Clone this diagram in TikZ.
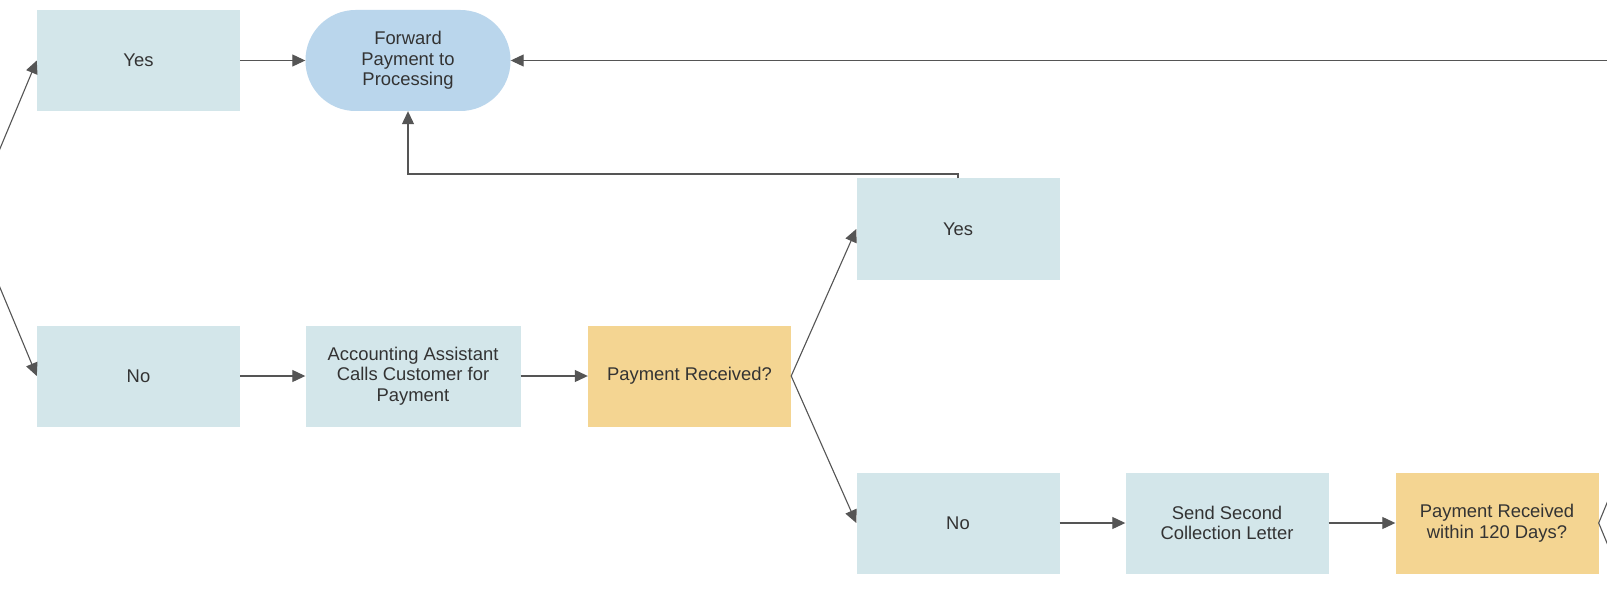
\documentclass[tikz,border=0pt]{standalone}
\usepackage{fontspec}
\setmainfont{Liberation Sans}
\usetikzlibrary{arrows.meta,calc}
\definecolor{boxblue}{HTML}{D3E6EA}
\definecolor{termblue}{HTML}{BAD6EC}
\definecolor{decorange}{HTML}{F4D592}
\definecolor{linegray}{HTML}{555555}
\definecolor{txtgray}{HTML}{333333}
\begin{document}
\begin{tikzpicture}[x=1pt,y=-1pt,
  base/.style={inner sep=0pt,minimum width=203pt,minimum height=101pt,align=center,
    text=txtgray,font=\fontsize{18.4}{20.5}\selectfont},
  procbox/.style={base,fill=boxblue},
  decbox/.style={base,fill=decorange},
  termbox/.style={base,fill=termblue,rounded corners=50pt,minimum width=205pt},
  conn/.style={draw=linegray,line width=1.1pt,-{Triangle[length=13pt,width=12pt]}},
  plain/.style={draw=linegray,line width=1.1pt}]
\useasboundingbox (0,0) rectangle (1607,591);
\clip (0,0) rectangle (1607,591);
\fill[white] (0,0) rectangle (1607,591);
% nodes
\node[procbox] (yes1) at (138.5,60.5) {Yes};
\node[termbox] (fwd) at (408,60.5) {Forward\\Payment to\\Processing};
\node[procbox] (no1) at (138.5,376) {No};
\node[procbox,minimum width=215pt] (acc) at (413,376) {Accounting Assistant\\Calls Customer for\\Payment};
\node[decbox] (pr) at (689.5,376) {Payment Received?};
\node[procbox] (yes2) at (958,229) {Yes};
\node[procbox] (no2) at (958,523) {No};
\node[procbox] (send) at (1227,523) {Send Second\\Collection Letter};
\node[decbox] (pr120) at (1497,523) {Payment Received\\within 120 Days?};
% off-page ends
\coordinate (dec0) at (-29,218);
\coordinate (rin) at (1640,60.5);
\coordinate (outup) at (1664,365.5);
\coordinate (outdn) at (1664,680.5);
\coordinate (loopy) at (0,174);
% connectors
\draw[conn] (dec0) -- (yes1.west);
\draw[conn] (dec0) -- (no1.west);
\draw[conn] (yes1.east) -- (fwd.west);
\draw[conn] (rin) -- (fwd.east);
\draw[conn] (no1.east) -- (acc.west);
\draw[conn] (acc.east) -- (pr.west);
\draw[conn] (pr.east) -- (yes2.west);
\draw[conn] (pr.east) -- (no2.west);
\draw[conn] (yes2.north) -- (yes2.north |- loopy) -| (fwd.south);
\draw[conn] (no2.east) -- (send.west);
\draw[conn] (send.east) -- (pr120.west);
\draw[conn] (pr120.east) -- (outup);
\draw[conn] (pr120.east) -- (outdn);
\end{tikzpicture}
\end{document}
